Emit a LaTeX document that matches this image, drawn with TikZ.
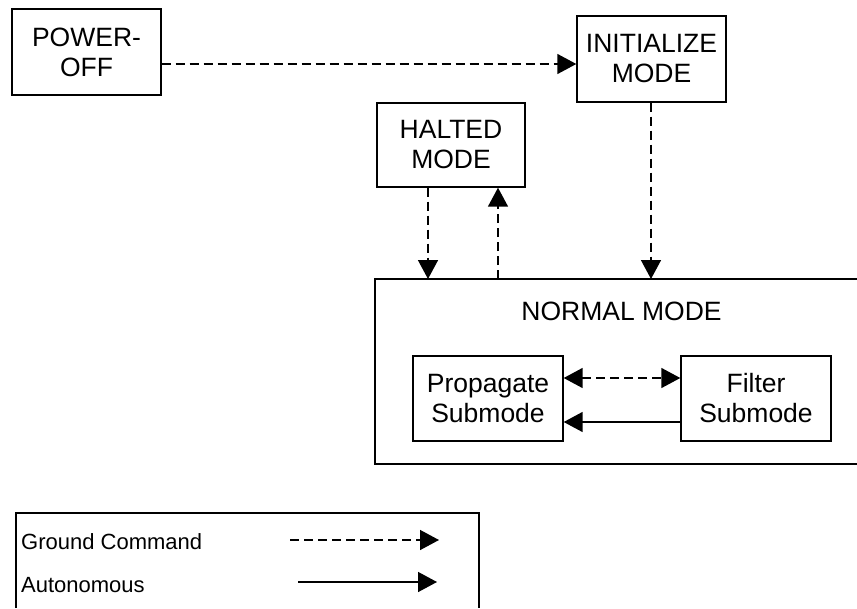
\documentclass[tikz,border=0pt]{standalone}
\usepackage{fontspec}
\setmainfont{Liberation Sans}
\usetikzlibrary{arrows.meta}
\begin{document}
\begin{tikzpicture}[x=1pt,y=-1pt,
  box/.style={draw,line width=1.4pt,inner sep=0pt,align=center,
    font=\fontsize{26.5}{30}\selectfont},
  plain/.style={inner sep=0pt,align=center,font=\fontsize{26.5}{30}\selectfont},
  leg/.style={inner sep=0pt,anchor=west,font=\fontsize{22}{26}\selectfont},
  gc/.style={line width=1.5pt,dash pattern=on 9pt off 5pt,-{Triangle[length=19pt,width=20pt]}},
  gcboth/.style={line width=1.5pt,dash pattern=on 9pt off 5pt,{Triangle[length=19pt,width=20pt]}-{Triangle[length=19pt,width=20pt]}},
  au/.style={line width=1.5pt,-{Triangle[length=19pt,width=20pt]}},
  frame/.style={line width=1.4pt}]
\useasboundingbox (0,0) rectangle (857,608);
% boxes
\node[box,minimum width=149pt,minimum height=86pt] (off) at (86.5,52) {POWER-\\OFF};
\node[box,minimum width=149pt,minimum height=86pt] (init) at (651.5,59) {INITIALIZE\\MODE};
\node[box,minimum width=148pt,minimum height=84pt] (halt) at (451,145) {HALTED\\MODE};
% normal mode frame (open on the right)
\coordinate (nnw) at (375,279);
\coordinate (nne) at (857,279);
\coordinate (nsw) at (375,464);
\coordinate (nse) at (857,464);
\draw[frame] (nne) -- (nnw) -- (nsw) -- (nse);
\node[plain] (normal) at (621.5,311) {NORMAL MODE};
\node[box,minimum width=150pt,minimum height=85pt] (prop) at (488,398.5) {Propagate\\Submode};
\node[box,minimum width=150pt,minimum height=85pt] (filt) at (756,398.5) {Filter\\Submode};
% connectors
\draw[gc] (off.east |- 0,64) -- (init.west |- 0,64);
\draw[gc] (init.south -| 651,0) -- (nnw -| 651,0);
\draw[gc] (halt.south -| 428,0) -- (nnw -| 428,0);
\draw[gc] (nnw -| 498,0) -- (halt.south -| 498,0);
\draw[gcboth] (prop.east |- 0,378) -- (filt.west |- 0,378);
\draw[au] (filt.west |- 0,422) -- (prop.east |- 0,422);
% legend
\coordinate (lsw) at (16,608);
\coordinate (lnw) at (16,513);
\coordinate (lne) at (479,513);
\coordinate (lse) at (479,608);
\draw[frame] (lsw) -- (lnw) -- (lne) -- (lse);
\node[leg] (lg) at (21,542) {Ground Command};
\node[leg] (la) at (21,585) {Autonomous};
\coordinate (lgs) at (290,540);
\coordinate (lge) at (439,540);
\coordinate (las) at (298,582);
\coordinate (lae) at (437,582);
\draw[gc] (lgs) -- (lge);
\draw[au] (las) -- (lae);
\end{tikzpicture}
\end{document}
